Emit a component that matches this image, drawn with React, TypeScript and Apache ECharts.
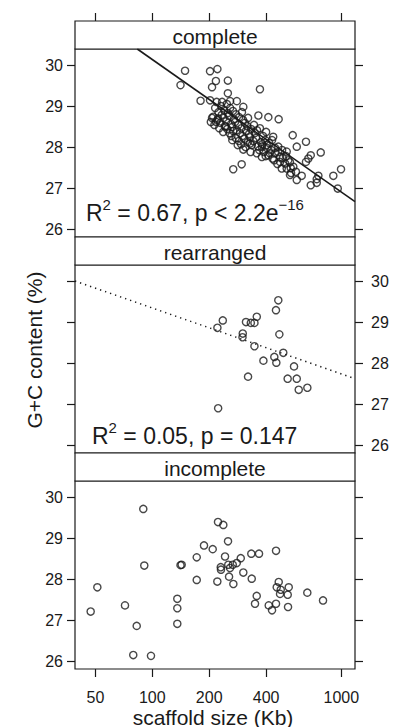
import React, { useEffect, useRef } from 'react';
import * as echarts from 'echarts';

const panelNames = ['complete', 'rearranged', 'incomplete'];
const xTicks = [50, 100, 200, 400, 1000];
const yTicks = [26, 27, 28, 29, 30];
const xRange = [39, 1181];
const yRange = [25.81, 30.39];
const xTitle = 'scaffold size (Kb)';
const yTitle = 'G+C content (%)';

// [scaffold size (Kb), G+C (%)]
const completePoints = [
  [149, 29.86], [141, 29.51], [202, 29.85], [221, 29.9], [217, 29.61], [207, 29.46], [251, 29.62], [251, 29.31], [371, 29.41], [180, 29.13],
  [219, 29.1], [234, 29.1], [258, 29.12], [202, 29.14], [280, 29.12], [303, 28.98], [210, 28.74], [223, 28.7], [217, 28.62], [364, 28.77],
  [411, 28.73], [466, 28.68], [244, 28.5], [265, 28.17], [303, 27.94], [268, 27.46], [297, 27.58], [553, 28.29], [650, 28.13], [581, 28.01],
  [778, 27.87], [689, 27.8], [669, 27.72], [650, 27.64], [907, 27.3], [996, 27.46], [957, 26.99], [689, 27.07], [741, 27.13], [756, 27.3],
  [741, 27.22], [581, 27.2], [617, 27.3], [542, 27.37], [484, 27.48], [504, 27.6], [524, 27.68], [474, 27.76], [446, 27.85], [557, 27.52],
  [575, 27.4], [436, 28.25], [403, 28.05], [464, 28.01], [514, 27.89], [380, 28.01], [357, 27.85], [380, 27.76], [433, 27.72], [411, 27.8],
  [329, 28.09], [514, 27.48], [535, 27.32], [474, 27.64],
  [207, 28.71], [204, 28.61], [215, 28.95], [213, 28.54], [224, 28.85], [221, 28.66], [226, 28.46], [231, 29.0], [233, 28.78], [229, 28.59],
  [240, 28.9], [238, 28.71], [242, 28.51], [237, 28.37], [248, 29.05], [251, 28.83], [246, 28.63], [249, 28.44], [258, 28.95], [255, 28.76],
  [261, 28.56], [256, 28.34], [262, 28.27], [267, 28.88], [270, 28.68], [265, 28.49], [268, 28.39], [277, 28.8], [274, 28.61], [280, 28.41],
  [276, 28.22], [283, 28.05], [288, 28.73], [285, 28.54], [291, 28.34], [287, 28.15], [298, 28.85], [302, 28.66], [296, 28.46], [300, 28.27],
  [295, 28.07], [309, 28.59], [313, 28.39], [306, 28.2], [311, 28.0], [321, 28.71], [318, 28.51], [325, 28.32], [320, 28.12], [333, 28.44],
  [329, 28.24], [336, 28.05], [331, 27.88], [345, 28.54], [349, 28.34], [342, 28.15], [358, 28.41], [354, 28.22], [362, 28.02], [371, 28.46],
  [375, 28.12], [368, 27.93], [385, 28.27], [381, 28.07], [389, 27.88], [400, 28.37], [396, 28.17], [404, 27.98], [398, 27.78], [415, 28.1],
  [418, 27.85], [430, 28.17], [426, 27.93], [446, 27.98], [441, 27.68], [463, 27.88], [459, 27.59], [486, 27.93], [490, 27.73], [510, 27.78],
  [535, 27.63], [540, 27.49],
];

const rearrangedPoints = [
  [464, 29.53], [451, 29.29], [236, 29.04], [221, 28.86], [313, 29.0], [332, 28.98], [347, 28.98], [357, 29.13], [301, 28.72], [300, 28.63],
  [470, 28.7], [347, 28.41], [442, 28.15], [493, 28.25], [387, 28.06], [453, 28.01], [562, 27.92], [321, 27.67], [520, 27.62], [581, 27.62],
  [595, 27.35], [661, 27.4], [223, 26.9],
];

const incompletePoints = [
  [89.6, 29.71], [51.2, 27.8], [47.2, 27.21], [71.7, 27.36], [82.7, 26.86], [79.3, 26.15], [98.4, 26.13], [90.7, 28.33], [135.6, 27.52], [135.6, 27.29],
  [135.6, 26.91], [141, 28.34], [143, 28.35], [171.8, 27.98], [171.8, 28.53], [187.7, 28.82], [208.7, 28.73], [222.6, 29.39], [237.5, 29.32], [220.8, 27.94],
  [251.5, 28.92], [242.5, 28.55], [230.2, 28.29], [230.8, 28.23], [252.3, 28.35], [257.6, 28.27], [266.4, 28.35], [254.7, 28.06], [268.4, 27.88], [279.7, 28.39],
  [293.7, 28.51], [303, 28.16], [334, 28.62], [366.9, 28.62], [335.7, 28.01], [356.7, 27.59], [349.4, 27.4], [451.3, 28.69], [466.4, 27.93], [455.2, 27.8],
  [477.9, 27.74], [474, 27.64], [526.8, 27.8], [520.4, 27.62], [413, 27.36], [429.9, 27.24], [451.3, 27.4], [522.4, 27.32], [660.7, 27.67], [800, 27.48],
];

const completeFit = [[83.3, 30.39], [1181, 26.67]];
const rearrangedFit = [[39, 30.0], [1181, 27.62]];

const completeStat = ['R', '2', ' = 0.67, p < 2.2e', '\u221216'];
const rearrangedStat = ['R', '2', ' = 0.05, p = 0.147'];

const FONT = '"Liberation Sans", Arial, Helvetica, sans-serif';
const INK = '#1a1a1a';

export default function App() {
  const ref = useRef<HTMLDivElement>(null);
  useEffect(() => {
    if (!ref.current) return;
    const chart = echarts.init(ref.current, null, { renderer: 'svg' });
    const L = 75, W = 280, top0 = 21, step = 216, stripH = 28, plotH = 188;
    const lx = (v: number) => Math.log10(v);
    const panels = [completePoints, rearrangedPoints, incompletePoints];

    const grid = panelNames.map((_, k) => ({
      left: L, top: top0 + k * step + stripH, width: W, height: plotH,
      show: true, borderColor: INK, borderWidth: 1.2, backgroundColor: 'transparent',
    }));

    const xAxis = panelNames.map((_, k) => ({
      type: 'value', gridIndex: k,
      min: lx(xRange[0]), max: lx(xRange[1]),
      position: k === 0 ? 'top' : 'bottom',
      offset: k === 0 ? stripH : 0,
      show: k !== 1,
      axisLine: { show: false },
      splitLine: { show: false },
      axisTick: { show: true, inside: false, length: 8, customValues: xTicks.map(lx), lineStyle: { color: INK, width: 1.2 } },
      axisLabel: {
        show: k === 2, customValues: xTicks.map(lx),
        formatter: (v: number) => String(Math.round(Math.pow(10, v))),
        margin: 20, fontSize: 16, color: INK, fontFamily: FONT,
      },
    }));

    const yAxis: any[] = [];
    panelNames.forEach((_, k) => {
      ['left', 'right'].forEach((side) => {
        const labelSide = k === 1 ? 'right' : 'left';
        yAxis.push({
          type: 'value', gridIndex: k, position: side,
          min: yRange[0], max: yRange[1],
          axisLine: { show: false },
          splitLine: { show: false },
          axisTick: { show: true, inside: false, length: 8, customValues: yTicks, lineStyle: { color: INK, width: 1.2 } },
          axisLabel: {
            show: side === labelSide, customValues: yTicks,
            margin: side === 'left' ? 12 : 16, fontSize: 16, color: INK, fontFamily: FONT,
          },
        });
      });
    });

    const series: any[] = panels.map((pts, k) => ({
      type: 'scatter', xAxisIndex: k, yAxisIndex: 2 * k,
      data: pts.map(([s, g]) => [lx(s), g]),
      symbol: 'circle', symbolSize: 7.2, silent: true,
      itemStyle: { color: 'rgba(0,0,0,0)', borderColor: INK, borderWidth: 1.4 },
    }));
    series.push({
      type: 'line', xAxisIndex: 0, yAxisIndex: 0, silent: true,
      data: completeFit.map(([s, g]) => [lx(s), g]),
      symbol: 'none', showSymbol: false, clip: true,
      lineStyle: { color: INK, width: 1.6 },
    });
    series.push({
      type: 'line', xAxisIndex: 1, yAxisIndex: 2, silent: true,
      data: rearrangedFit.map(([s, g]) => [lx(s), g]),
      symbol: 'none', showSymbol: false, clip: true,
      lineStyle: { color: INK, width: 1.5, type: [1.3, 4] },
    });

    const statText = (parts: string[], x: number, y: number) => ({
      type: 'text', x, y, silent: true,
      style: {
        text: parts.map((p, i) => (i % 2 === 0 ? `{a|${p}}` : `{s|${p}}`)).join(''),
        rich: {
          a: { fontSize: 23, fontFamily: FONT, fill: INK, lineHeight: 32 },
          s: { fontSize: 15, fontFamily: FONT, fill: INK, verticalAlign: 'top', lineHeight: 16 },
        },
        align: 'left', verticalAlign: 'bottom',
      },
    });

    const graphic: any[] = [];
    panelNames.forEach((name, k) => {
      const t = top0 + k * step;
      graphic.push({
        type: 'rect', silent: true,
        shape: { x: L, y: t, width: W, height: stripH },
        style: { fill: '#fff', stroke: INK, lineWidth: 1.2 },
      });
      graphic.push({
        type: 'text', silent: true, x: L + W / 2, y: t + stripH / 2 + 1,
        style: { text: name, fontSize: 21, fontFamily: FONT, fill: INK, align: 'center', verticalAlign: 'middle' },
      });
    });
    graphic.push(statText(completeStat, 86, 229));
    graphic.push(statText(rearrangedStat, 92, 452));
    graphic.push({
      type: 'text', silent: true, x: L + W / 2 - 2, y: 717,
      style: { text: xTitle, fontSize: 21, fontFamily: FONT, fill: INK, align: 'center', verticalAlign: 'middle' },
    });
    graphic.push({
      type: 'text', silent: true, x: 34, y: 350, rotation: Math.PI / 2,
      style: { text: yTitle, fontSize: 21, fontFamily: FONT, fill: INK, align: 'center', verticalAlign: 'middle' },
    });

    chart.setOption({
      animation: false,
      backgroundColor: '#fff',
      grid, xAxis, yAxis, series, graphic,
    });
    return () => chart.dispose();
  }, []);
  return <div ref={ref} style={{ position: 'fixed', left: 0, top: 0, width: 399, height: 727 }} />;
}
